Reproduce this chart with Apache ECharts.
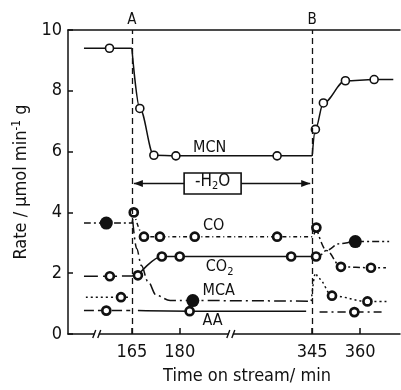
<!DOCTYPE html>
<html>
<head>
<meta charset="utf-8">
<script src="https://cdn.jsdelivr.net/npm/echarts@6/dist/echarts.min.js"></script>
<style>
html, body { margin: 0; background: #fff; }
#chart { width: 401px; height: 390px; }
</style>
</head>
<body>
<div id="chart"></div>
<script>
// time on stream (min) and rate (umol/min/g), each species split in
// three phases: [before A, between A and B (no water), after B]
const mcnT = [[150, 158, 165], [165, 167.5, 171.9, 178.8, 334, 345], [345, 346, 348.5, 355.4, 364.4, 370.4]];
const mcnV = [[9.4, 9.4, 9.4], [9.4, 7.42, 5.88, 5.86, 5.86, 5.86], [5.86, 6.73, 7.6, 8.33, 8.37, 8.37]];
const mcnPts = [[1], [1, 2, 3, 4], [1, 2, 3, 4]];

const coT = [[150, 157, 165, 165.6], [165.6, 168.8, 173.8, 184.7, 334, 345, 346.3], [346.3, 349.4, 354, 363.4, 368.1]];
const coV = [[3.65, 3.65, 3.65, 4.0], [4.0, 3.2, 3.2, 3.2, 3.2, 3.2, 3.5], [3.5, 2.75, 2.21, 2.18, 2.18]];
const coPts = [[1], [0, 1, 2, 3, 4, 6], [2, 3]];

const co2T = [[150, 158.1, 165, 166.9], [166.9, 174.4, 180, 338.4, 346.2], [346.2, 347.3, 349.4, 353.5, 358.5, 369.1]];
const co2V = [[1.9, 1.9, 1.91, 1.93], [1.93, 2.55, 2.55, 2.55, 2.55], [2.55, 2.58, 2.75, 2.97, 3.04, 3.04]];
const co2Pts = [[1, 3], [1, 2, 3, 4], [4]];

const mcaT = [[150.6, 161.6, 164.7], [165.3, 166.5, 168, 170, 172.7, 177, 184.1, 344.5], [344.7, 346, 347, 351.2, 362.3, 368.5]];
const mcaV = [[1.21, 1.21, 1.21], [3.7, 2.81, 2.25, 1.73, 1.27, 1.1, 1.1, 1.08], [1.08, 2.0, 1.83, 1.26, 1.07, 1.07]];
const mcaPts = [[1], [6], [3, 4]];

const aaT = [[150, 157, 164.5], [166.9, 183.1, 343.1], [347.3, 358.2, 367]];
const aaV = [[0.77, 0.77, 0.77], [0.77, 0.75, 0.75], [0.72, 0.72, 0.72]];
const aaPts = [[1], [1], [1]];

const tickTimes = [165, 180, 345, 360];
const eventTimes = [165, 345];
const eventNames = ['A', 'B'];

// the axis is broken between 180 and 345 min: later times are shifted left
const GAP = 123.5;
const ax = t => (t > 300 ? t - GAP : t);
const INK = '#111';
const FONT = "'Liberation Sans Narrow', 'DejaVu Sans Condensed', sans-serif";

const OPEN = { symbol: 'circle', size: 8, style: { color: '#fff', borderColor: INK, borderWidth: 1.6 } };
const SMALL = { symbol: 'circle', size: 8, style: { color: '#fff', borderColor: INK, borderWidth: 2.7 } };
const BIG = { symbol: 'circle', size: 13, style: { color: INK, borderWidth: 0 } };
const DASHDOT = [7, 3, 2, 3];

const species = [
  { t: mcnT, v: mcnV, pts: mcnPts, dash: ['solid', 'solid', 'solid'], mark: [OPEN, OPEN, OPEN] },
  { t: coT, v: coV, pts: coPts, dash: [DASHDOT, [4, 3, 1, 3], DASHDOT], mark: [BIG, SMALL, SMALL] },
  { t: co2T, v: co2V, pts: co2Pts, dash: [[14, 5], 'solid', DASHDOT], mark: [SMALL, SMALL, BIG] },
  { t: mcaT, v: mcaV, pts: mcaPts, dash: [[2, 3], [12, 4, 2, 4], [2, 3]], mark: [SMALL, BIG, SMALL] },
  { t: aaT, v: aaV, pts: aaPts, dash: [[10, 4], 'solid', [8, 4, 2, 4]], mark: [SMALL, SMALL, SMALL] }
];

const series = [];
species.forEach(sp => {
  for (let p = 0; p < 3; p++) {
    const m = sp.mark[p];
    series.push({
      type: 'line',
      smooth: 0.35,
      smoothMonotone: 'x',
      showAllSymbol: true,
      symbolSize: m.size,
      itemStyle: m.style,
      lineStyle: { color: INK, width: 1.5, type: sp.dash[p] },
      data: sp.t[p].map((t, i) => ({
        value: [ax(t), sp.v[p][i]],
        symbol: sp.pts[p].includes(i) ? m.symbol : 'none'
      }))
    });
  }
});

series[0].markLine = {
  silent: true,
  symbol: 'none',
  lineStyle: { color: INK, width: 1.3, type: [6, 4] },
  label: { formatter: '{b}', position: 'end', distance: 2, fontSize: 15, color: INK, fontFamily: FONT },
  data: eventTimes.map((t, i) => ({ name: eventNames[i], xAxis: ax(t) }))
};

const chart = echarts.init(document.getElementById('chart'));
chart.setOption({
  animation: false,
  backgroundColor: '#fff',
  grid: { left: 68, right: 1, top: 30, bottom: 54 },
  xAxis: [{
    type: 'value', min: 145, max: 249, position: 'bottom',
    axisLine: { onZero: false, lineStyle: { color: INK, width: 1.5 } },
    axisTick: { inside: true, length: 6, customValues: tickTimes.map(ax), lineStyle: { color: INK, width: 1.5 } },
    axisLabel: {
      customValues: tickTimes.map(ax),
      formatter: v => String(Math.round(v > 200 ? v + GAP : v)),
      fontSize: 18, color: INK, margin: 9, fontFamily: FONT
    },
    splitLine: { show: false },
    name: 'Time on stream/ min', nameLocation: 'middle', nameGap: 33,
    nameTextStyle: { fontSize: 18, color: INK, fontFamily: FONT, padding: [0, 0, 0, 26] }
  }, {
    type: 'value', min: 145, max: 249, position: 'top',
    axisLine: { onZero: false, lineStyle: { color: INK, width: 1.5 } },
    axisTick: { show: false }, axisLabel: { show: false }, splitLine: { show: false }
  }],
  yAxis: {
    type: 'value', min: 0, max: 10, interval: 2,
    axisLine: { show: true, lineStyle: { color: INK, width: 1.5 } },
    axisTick: { show: true, inside: true, length: 5, lineStyle: { color: INK, width: 1.5 } },
    axisLabel: { fontSize: 18, color: INK, margin: 6, fontFamily: FONT },
    splitLine: { show: false },
    name: 'Rate / µmol min{sup|-1} g', nameLocation: 'middle', nameGap: 31,
    nameTextStyle: {
      fontSize: 18, color: INK, fontFamily: FONT,
      rich: { sup: { fontSize: 12, color: INK, fontFamily: FONT, padding: [0, 0, 9, 0] } }
    }
  },
  series: series
});

// annotations placed in data space
const px = (t, v) => chart.convertToPixel({ gridIndex: 0 }, [ax(t), v]);
const textStyle = (text, x, y, size) => ({
  type: 'text', x, y, z: 100,
  style: {
    text, fill: INK, fontSize: size, fontFamily: FONT, align: 'center', verticalAlign: 'middle',
    rich: { s: { fontSize: 11, fill: INK, fontFamily: FONT, padding: [10, 0, 0, 0] } }
  }
});
const graphic = [];
[['MCN', 189.4, 6.12], ['CO', 190.6, 3.56], ['CO{s|2}', 192.5, 2.2], ['MCA', 192.2, 1.42], ['AA', 190.3, 0.42]]
  .forEach(([s, t, v]) => { const p = px(t, v); graphic.push(textStyle(s, p[0], p[1], 16)); });

// -H2O box with arrows to A and B
const bc = px(190.3, 4.95);
const aX = px(165, 5)[0], bX = px(345, 5)[0];
const bw = 57, bh = 21;
graphic.push({ type: 'rect', z: 99, shape: { x: bc[0] - bw / 2, y: bc[1] - bh / 2, width: bw, height: bh },
  style: { fill: '#fff', stroke: INK, lineWidth: 1.6 } });
graphic.push(textStyle('-H{s|2}O', bc[0], bc[1] - 2, 17));
[[bc[0] - bw / 2, aX + 2], [bc[0] + bw / 2, bX - 2]].forEach(([x0, x1]) => {
  const d = Math.sign(x1 - x0);
  graphic.push({ type: 'line', z: 98, shape: { x1: x0, y1: bc[1], x2: x1, y2: bc[1] }, style: { stroke: INK, lineWidth: 1.3 } });
  graphic.push({ type: 'polygon', z: 98, shape: { points: [[x1, bc[1]], [x1 - d * 9, bc[1] - 3.5], [x1 - d * 9, bc[1] + 3.5]] },
    style: { fill: INK } });
});

// break marks on the time axis
[154, 196].forEach(u => {
  const p = chart.convertToPixel({ gridIndex: 0 }, [u, 0]);
  graphic.push({ type: 'rect', z: 97, shape: { x: p[0] - 2, y: p[1] - 3, width: 4, height: 6 }, style: { fill: '#fff' } });
  [-2.5, 2.5].forEach(o => graphic.push({ type: 'line', z: 98,
    shape: { x1: p[0] + o - 1.5, y1: p[1] + 4, x2: p[0] + o + 1.5, y2: p[1] - 4 }, style: { stroke: INK, lineWidth: 1.4 } }));
});
chart.setOption({ graphic });
</script>
</body>
</html>
